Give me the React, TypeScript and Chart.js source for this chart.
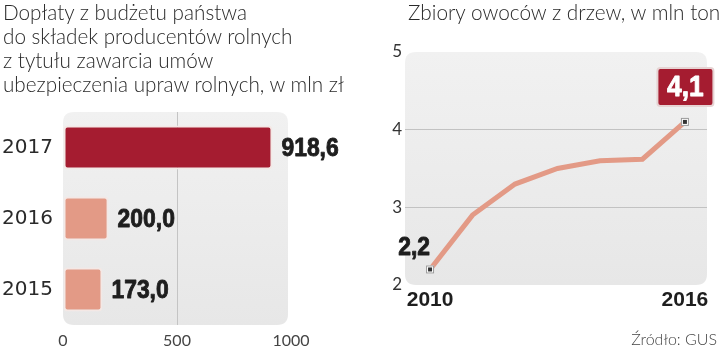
import React, { useEffect, useRef } from "react";
import { Chart, registerables } from "chart.js";

Chart.register(...registerables);

// ---- data ----
const barYears = ["2017", "2016", "2015"];
const barValues = [918.6, 200.0, 173.0];
const barColors = ["#a51c30", "#e39a86", "#e39a86"];
const barTicks = [0, 500, 1000];

const lineYears = [2010, 2011, 2012, 2013, 2014, 2015, 2016];
const lineValues = [2.2, 2.9, 3.3, 3.5, 3.6, 3.62, 4.1];
const lineXTicks = [2010, 2016];
const lineYTicks = [2, 3, 4, 5];

const titleLeft = [
  "Dopłaty z budżetu państwa",
  "do składek producentów rolnych",
  "z tytułu zawarcia umów",
  "ubezpieczenia upraw rolnych, w mln zł",
];
const titleRight = "Zbiory owoców z drzew, w mln ton";
const source = "Źródło: GUS";

const LIGHT = "Lato, 'Open Sans', Roboto, sans-serif";

const fmt = (v: number) => v.toFixed(1).replace(".", ",");

function narrowText(
  ctx: CanvasRenderingContext2D,
  text: string,
  x: number,
  y: number,
  align: CanvasTextAlign,
  size: number,
  color: string
) {
  ctx.save();
  ctx.translate(x, y);
  ctx.scale(0.88, 1);
  ctx.font = `bold ${size}px 'Liberation Sans', Arial, sans-serif`;
  ctx.fillStyle = color;
  ctx.strokeStyle = color;
  ctx.lineWidth = 0.9;
  ctx.lineJoin = "round";
  ctx.textAlign = align;
  ctx.textBaseline = "middle";
  ctx.fillText(text, 0, 0);
  ctx.strokeText(text, 0, 0);
  ctx.restore();
}

function roundRect(ctx: CanvasRenderingContext2D, x: number, y: number, w: number, h: number, r: number) {
  ctx.beginPath();
  ctx.moveTo(x + r, y);
  ctx.lineTo(x + w - r, y);
  ctx.quadraticCurveTo(x + w, y, x + w, y + r);
  ctx.lineTo(x + w, y + h - r);
  ctx.quadraticCurveTo(x + w, y + h, x + w - r, y + h);
  ctx.lineTo(x + r, y + h);
  ctx.quadraticCurveTo(x, y + h, x, y + h - r);
  ctx.lineTo(x, y + r);
  ctx.quadraticCurveTo(x, y, x + r, y);
  ctx.closePath();
}

const bgPlugin = (shrinkRight: number) => ({
  id: "bg",
  beforeDraw(chart: any) {
    const { ctx, chartArea: a } = chart;
    ctx.save();
    const g = ctx.createLinearGradient(0, a.top, 0, a.bottom);
    g.addColorStop(0, "#f1f1f1");
    g.addColorStop(1, "#e7e7e7");
    ctx.fillStyle = g;
    roundRect(ctx, a.left, a.top, a.right - a.left - shrinkRight, a.bottom - a.top, 11);
    ctx.fill();
    ctx.restore();
  },
});

const barLabelPlugin = {
  id: "barLabels",
  afterDatasetsDraw(chart: any) {
    const { ctx } = chart;
    const meta = chart.getDatasetMeta(0);
    meta.data.forEach((el: any, i: number) => {
      narrowText(ctx, fmt(barValues[i]), el.x + 9, el.y + 1, "left", 26, "#1e1e1e");
    });
  },
};

const lineMarkPlugin = {
  id: "lineMarks",
  afterDatasetsDraw(chart: any) {
    const { ctx } = chart;
    const meta = chart.getDatasetMeta(0);
    const first = meta.data[0];
    const last = meta.data[meta.data.length - 1];
    ctx.save();
    [first, last].forEach((p: any) => {
      ctx.fillStyle = "#ffffff";
      ctx.fillRect(p.x - 4, p.y - 4, 8, 8);
      ctx.strokeStyle = "#9a9a9a";
      ctx.lineWidth = 1;
      ctx.strokeRect(p.x - 3.5, p.y - 3.5, 7, 7);
      ctx.fillStyle = "#333";
      ctx.fillRect(p.x - 2, p.y - 2, 4, 4);
    });
    // last value box
    const bw = 56, bh = 38;
    const bx = last.x + 0.5 - bw / 2;
    const by = last.y - 35 - bh / 2;
    ctx.fillStyle = "#a51c30";
    roundRect(ctx, bx, by, bw, bh, 3);
    ctx.fill();
    ctx.strokeStyle = "#e6d3d3";
    ctx.lineWidth = 2;
    ctx.stroke();
    ctx.restore();
    narrowText(ctx, fmt(lineValues[0]), first.x - 16, first.y - 22, "center", 26, "#1e1e1e");
    narrowText(ctx, fmt(lineValues[lineValues.length - 1]), bx + bw / 2, by + bh / 2 + 1, "center", 30, "#ffffff");
  },
};

export default function App() {
  const leftRef = useRef<HTMLCanvasElement>(null);
  const rightRef = useRef<HTMLCanvasElement>(null);

  useEffect(() => {
    const left = new Chart(leftRef.current!, {
      type: "bar",
      data: {
        labels: barYears,
        datasets: [
          {
            data: barValues,
            backgroundColor: barColors,
            borderColor: "#f4e8e5",
            borderWidth: 2,
            borderRadius: 4,
            borderSkipped: false,
            barPercentage: 0.62,
            categoryPercentage: 1,
          },
        ],
      },
      options: {
        indexAxis: "y",
        responsive: false,
        animation: false,
        devicePixelRatio: 1,
        layout: { padding: { top: 112, right: 69, left: 0, bottom: 0 } },
        plugins: { legend: { display: false }, tooltip: { enabled: false } },
        scales: {
          y: {
            grid: { display: false, drawTicks: false },
            border: { display: false },
            ticks: { font: { family: "'DejaVu Sans', sans-serif", size: 20 }, color: "#2a2a2a", padding: 10 },
            afterFit: (s: any) => { s.width = 63; },
          },
          x: {
            min: barTicks[0],
            max: barTicks[barTicks.length - 1],
            afterBuildTicks: (s: any) => { s.ticks = barTicks.map((v) => ({ value: v })); },
            ticks: { font: { family: LIGHT, size: 16 }, color: "#444", padding: 6, callback: (v: any) => String(v) },
            grid: {
              drawTicks: false,
              color: (c: any) => (c.tick && c.tick.value === 500 ? "#c4c4c4" : "rgba(0,0,0,0)"),
            },
            border: { display: false },
            afterFit: (s: any) => { s.height = 24; },
          },
        },
      },
      plugins: [bgPlugin(3), barLabelPlugin],
    } as any);

    const right = new Chart(rightRef.current!, {
      type: "line",
      data: {
        datasets: [
          {
            data: lineYears.map((y, i) => ({ x: y, y: lineValues[i] })),
            borderColor: "#e39a86",
            borderWidth: 5,
            pointRadius: 0,
            tension: 0,
          },
        ],
      },
      options: {
        responsive: false,
        animation: false,
        devicePixelRatio: 1,
        layout: { padding: { top: 52, right: 13, left: 0, bottom: 0 } },
        plugins: { legend: { display: false }, tooltip: { enabled: false } },
        scales: {
          x: {
            type: "linear",
            min: 2009.41,
            max: 2016.52,
            afterBuildTicks: (s: any) => { s.ticks = lineXTicks.map((v) => ({ value: v })); },
            ticks: { font: { family: "'Liberation Sans', sans-serif", size: 21, weight: "bold" }, color: "#1e1e1e", padding: 3, callback: (v: any) => String(v) },
            grid: { display: false, drawTicks: false },
            border: { display: false },
            afterFit: (s: any) => { s.height = 64; },
          },
          y: {
            min: 2,
            max: 5,
            afterBuildTicks: (s: any) => { s.ticks = lineYTicks.map((v) => ({ value: v })); },
            ticks: { font: { family: LIGHT, size: 17 }, color: "#333", padding: 3 },
            grid: {
              drawTicks: false,
              color: (c: any) => (c.tick && (c.tick.value === 3 || c.tick.value === 4) ? "#c2c2c2" : "rgba(0,0,0,0)"),
            },
            border: { display: false },
            afterFit: (s: any) => { s.width = 45; },
          },
        },
      },
      plugins: [bgPlugin(0), lineMarkPlugin],
    } as any);

    return () => {
      left.destroy();
      right.destroy();
    };
  }, []);

  const textStyle: React.CSSProperties = {
    position: "absolute",
    fontFamily: LIGHT,
    fontWeight: 300,
    fontSize: 20.7,
    lineHeight: "24px",
    color: "#2a2a2a",
    whiteSpace: "nowrap",
  };

  return (
    <div style={{ position: "absolute", left: 0, top: 0, width: 720, height: 349, background: "#fff", overflow: "hidden" }}>
      <canvas ref={leftRef} width={360} height={349} style={{ position: "absolute", left: 0, top: 0 }} />
      <canvas ref={rightRef} width={360} height={349} style={{ position: "absolute", left: 360, top: 0 }} />
      <div style={{ ...textStyle, left: 3, top: 0 }}>
        {titleLeft.map((t) => (
          <div key={t}>{t}</div>
        ))}
      </div>
      <div style={{ ...textStyle, fontSize: 20.8, left: 408, top: 0 }}>{titleRight}</div>
      <div style={{ ...textStyle, fontSize: 16, lineHeight: "20px", right: 3, top: 329, color: "#444" }}>{source}</div>
    </div>
  );
}
